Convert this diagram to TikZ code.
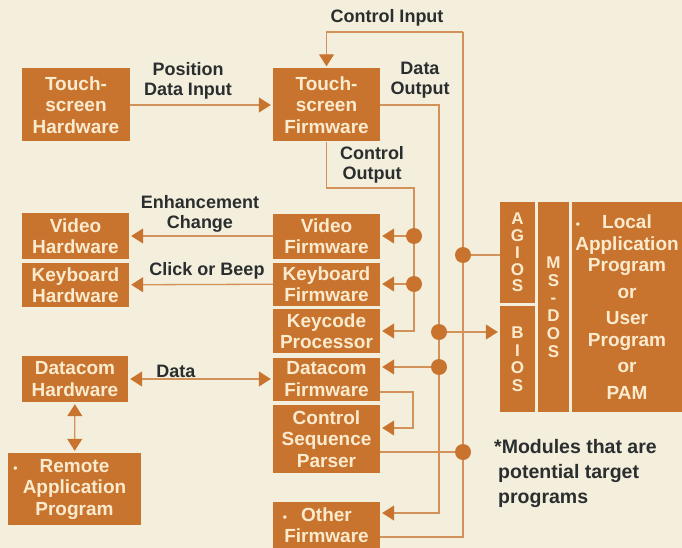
\documentclass[tikz,border=0pt]{standalone}
\usepackage{fontspec}
\setmainfont{Liberation Sans}
\usepackage{tikz}
\usetikzlibrary{arrows.meta}
\pgfdeclarelayer{background}
\pgfsetlayers{background,main}
\definecolor{paper}{HTML}{F4EEDC}
\definecolor{rust}{HTML}{C8742E}
\definecolor{wirec}{HTML}{D3925A}
\definecolor{cream}{HTML}{FAEBCF}
\definecolor{ink}{HTML}{2A2E2E}
\newcommand{\modbullet}[1]{\llap{{\fontsize{12}{12}\selectfont\textbullet}\hspace{#1}}}
\tikzstyle{box}  = [fill=rust, text=cream, font=\fontsize{19}{21.5}\selectfont\bfseries, align=center, inner sep=0pt]
\tikzstyle{lbl}  = [text=ink, font=\fontsize{18}{20}\selectfont\bfseries, align=center, inner sep=0pt]
\tikzstyle{wire} = [draw=wirec, line width=1.3pt]
\tikzstyle{flow} = [wire, -{Triangle[length=12pt,width=15pt,color=rust]}, shorten >=2pt]
\tikzstyle{both} = [wire, {Triangle[length=12pt,width=15pt,color=rust]}-{Triangle[length=12pt,width=15pt,color=rust]}, shorten <=2pt, shorten >=2pt]
\tikzstyle{dot}  = [circle, fill=rust, inner sep=0pt, minimum size=16pt]

\begin{document}
\begin{tikzpicture}[x=1pt,y=-1pt]
  \useasboundingbox (0,0) rectangle (682,548);

  %hardware on the left
  \node[box, minimum width=108pt, minimum height=73pt] (tshw) at (76,105) {Touch-\\screen\\Hardware};
  \node[box, minimum width=107pt, minimum height=46pt] (vidhw) at (75.5,236) {Video\\Hardware};
  \node[box, minimum width=107pt, minimum height=44pt] (kbdhw) at (75.5,285) {Keyboard\\Hardware};
  \node[box, minimum width=106pt, minimum height=46pt] (dchw) at (75,379) {Datacom\\Hardware};
  \node[box, minimum width=133pt, minimum height=72pt] (remote) at (74.5,489) {\modbullet{22pt}Remote\\Application\\Program};

  %firmware stack in the middle
  \node[box, minimum width=107pt, minimum height=73pt] (tsfw) at (326.5,105) {Touch-\\screen\\Firmware};
  \node[box, minimum width=107pt, minimum height=45pt] (vidfw) at (326.5,236) {Video\\Firmware};
  \node[box, minimum width=107pt, minimum height=43pt] (kbdfw) at (326.5,284) {Keyboard\\Firmware};
  \node[box, minimum width=107pt, minimum height=44pt] (keycode) at (326.5,331) {Keycode\\Processor};
  \node[box, minimum width=107pt, minimum height=43pt] (dcfw) at (326.5,379) {Datacom\\Firmware};
  \node[box, minimum width=107pt, minimum height=68pt] (csp) at (326.5,439) {Control\\Sequence\\Parser};
  \node[box, minimum width=107pt, minimum height=46pt] (other) at (326.5,525) {\modbullet{14pt}Other\\Firmware};

  %operating system block on the right
  \node[box, minimum width=35pt, minimum height=101pt, font=\fontsize{17}{16.8}\selectfont\bfseries] (agios) at (517.5,252.5) {A\\G\\I\\O\\S};
  \node[box, minimum width=35pt, minimum height=106pt, font=\fontsize{17}{17.5}\selectfont\bfseries] (bios) at (517.5,359) {B\\I\\O\\S};
  \node[box, minimum width=31pt, minimum height=210pt, font=\fontsize{17}{17.7}\selectfont\bfseries] (msdos) at (553.5,307) {M\\S\\-\\D\\O\\S};
  \node[box, minimum width=110pt, minimum height=210pt] (local) at (627,307) {\modbullet{22pt}Local\\Application\\Program\\[5pt]or\\[5pt]User\\Program\\[5pt]or\\[5pt]PAM};

  %junction dots
  \node[dot] (vdot) at (414,236) {};
  \node[dot] (kdot) at (414,284) {};
  \node[dot] (bdot) at (439,332) {};
  \node[dot] (ddot) at (439,367) {};
  \node[dot] (adot) at (463,255) {};
  \node[dot] (pdot) at (463,452) {};
  \coordinate (ctrlin) at (463,32);
  \coordinate (busend) at (463,537);
  \coordinate (cotop) at (414,188);
  \coordinate (dobot) at (439,513);
  \coordinate (lp1) at (413,392);
  \coordinate (lp2) at (413,428);

  %connectors
  \begin{pgfonlayer}{background}
    \fill[paper] (0,0) rectangle (682,548);
    \draw[flow] (tshw) -- (tsfw);
    \draw[flow] (ctrlin) -| (tsfw);
    \draw[wire] (ctrlin) -- (busend) -- (busend -| other.east);
    \draw[flow] (tsfw.east) -| (dobot) -- (dobot -| other.east);
    \draw[flow] (tsfw.south) |- (cotop) |- (keycode.east);
    \draw[flow] (vdot) -- (vidfw.east);
    \draw[flow] (kdot) -- (kbdfw.east);
    \draw[flow] (vidfw) -- (vidhw);
    \draw[flow] (kbdfw) -- (kbdhw);
    \draw[both] (dchw) -- (dcfw);
    \draw[both] (dchw) -- (remote);
    \draw[flow] (bdot) -- (bdot -| bios.west);
    \draw[flow] (ddot) -- (ddot -| dcfw.east);
    \draw[wire] (adot) -- (adot -| agios.west);
    \draw[wire] (csp.east |- pdot) -- (pdot);
    \draw[flow] (lp1 -| dcfw.east) -- (lp1) -- (lp2) -- (lp2 -| csp.east);
  \end{pgfonlayer}

  %labels
  \node[lbl] (posin) at (188,81) {Position\\Data Input};
  \node[lbl] (ctrlinlbl) at (387,18) {Control Input};
  \node[lbl] (doutlbl) at (420,80) {Data\\Output};
  \node[lbl] (coutlbl) at (372,165) {Control\\Output};
  \node[lbl] (enhlbl) at (200,214) {Enhancement\\Change};
  \node[lbl] (clicklbl) at (207,271) {Click or Beep};
  \node[lbl] (datalbl) at (176,371) {Data};
  \node[lbl, align=left, anchor=north west, font=\fontsize{19.5}{25}\selectfont\bfseries] (note) at (494,439) {*Modules that are\\\hspace{4pt}potential target\\\hspace{4pt}programs};
\end{tikzpicture}
\end{document}
